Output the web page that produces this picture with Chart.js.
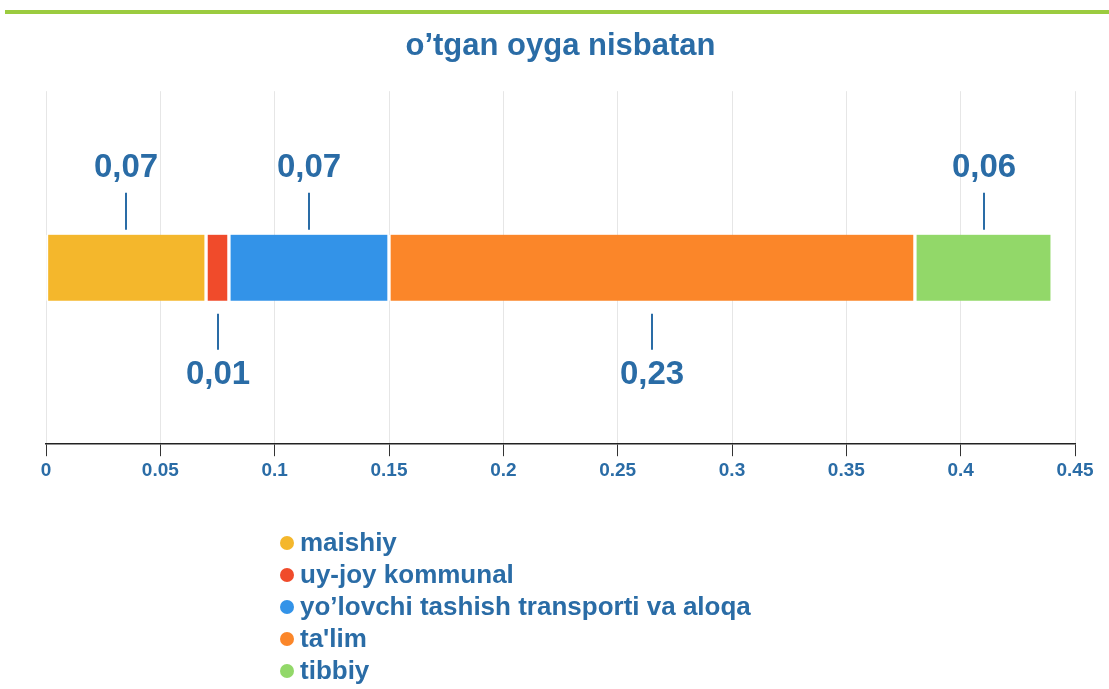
<!DOCTYPE html>
<html>
<head>
<meta charset="utf-8">
<script src="https://cdn.jsdelivr.net/npm/chart.js@4"></script>
<style>
  body { margin: 0; background: #fff; font-family: "Liberation Sans", Arial, sans-serif; }
  #wrap { position: relative; width: 1109px; height: 689px; }
  #topline { position: absolute; left: 5px; top: 10px; width: 1104px; height: 4px; background: #9bcb3f; }
  #legend { position: absolute; left: 280px; top: 526px; list-style: none; margin: 0; padding: 0; }
  #legend li { height: 32px; line-height: 32px; font-size: 26px; font-weight: bold; color: #2a6ca6; white-space: nowrap; }
  #legend span { display: inline-block; width: 14px; height: 14px; border-radius: 50%; margin-right: 6px; vertical-align: 1px; }
</style>
</head>
<body>
<div id="wrap">
  <canvas id="chart" width="1109" height="689"></canvas>
  <div id="topline"></div>
  <ul id="legend"></ul>
</div>
<script>
var labels = ['maishiy', 'uy-joy kommunal', 'yo\u2019lovchi tashish transporti va aloqa', "ta'lim", 'tibbiy'];
var values = [0.07, 0.01, 0.07, 0.23, 0.06];
var colors = ['#f4b72c', '#f04b2b', '#3393e8', '#fb8629', '#92d869'];
var ticks = [0, 0.05, 0.1, 0.15, 0.2, 0.25, 0.3, 0.35, 0.4, 0.45];

var blue = '#2a6ca6';

var datasets = labels.map(function (l, i) {
  return {
    label: l,
    data: [values[i]],
    backgroundColor: colors[i],
    borderColor: '#ffffff',
    borderWidth: { left: 2, right: 2, top: 0, bottom: 0 },
    borderSkipped: false,
    barThickness: 66
  };
});

// value labels with leader lines, alternating above / below
const leaderLabels = {
  id: 'leaderLabels',
  afterDatasetsDraw(chart) {
    const ctx = chart.ctx;
    ctx.save();
    ctx.strokeStyle = blue;
    ctx.fillStyle = blue;
    ctx.lineWidth = 2;
    ctx.font = 'bold 33px "Liberation Sans", Arial, sans-serif';
    ctx.textAlign = 'center';
    ctx.textBaseline = 'middle';
    chart.data.datasets.forEach(function (ds, i) {
      const el = chart.getDatasetMeta(i).data[0];
      const x = Math.round((el.x + el.base) / 2);
      const top = el.y - el.height / 2;
      const bottom = el.y + el.height / 2;
      const txt = ds.data[0].toFixed(2).replace('.', ',');
      ctx.beginPath();
      if (i % 2 === 0) {
        ctx.moveTo(x, top - 5);
        ctx.lineTo(x, top - 42);
        ctx.stroke();
        ctx.fillText(txt, x, top - 67);
      } else {
        ctx.moveTo(x, bottom + 13);
        ctx.lineTo(x, bottom + 49);
        ctx.stroke();
        ctx.fillText(txt, x, bottom + 74);
      }
    });
    ctx.restore();
  }
};

new Chart(document.getElementById('chart'), {
  type: 'bar',
  data: { labels: [''], datasets: datasets },
  options: {
    indexAxis: 'y',
    responsive: false,
    animation: false,
    layout: { padding: { left: 46, right: 34, top: 0, bottom: 204 } },
    scales: {
      x: {
        stacked: true,
        min: 0,
        max: 0.45,
        afterBuildTicks: function (axis) {
          axis.ticks = ticks.map(function (v) { return { value: v }; });
        },
        grid: { color: '#e6e6e6', tickColor: '#333', tickLength: 12, lineWidth: 1 },
        border: { color: '#222', width: 1.5 },
        ticks: {
          color: blue,
          padding: 3,
          font: { family: '"Liberation Sans", Arial, sans-serif', size: 19, weight: 'bold' },
          callback: function (v) { return String(v); }
        }
      },
      y: { stacked: true, display: false }
    },
    plugins: {
      legend: { display: false },
      tooltip: { enabled: false },
      title: {
        display: true,
        text: 'o\u2019tgan oyga nisbatan',
        color: blue,
        font: { family: '"Liberation Sans", Arial, sans-serif', size: 31, weight: 'bold' },
        padding: { top: 28, bottom: 26 }
      }
    }
  },
  plugins: [leaderLabels]
});

var ul = document.getElementById('legend');
labels.forEach(function (l, i) {
  var li = document.createElement('li');
  var dot = document.createElement('span');
  dot.style.background = colors[i];
  li.appendChild(dot);
  li.appendChild(document.createTextNode(l));
  ul.appendChild(li);
});
</script>
</body>
</html>
